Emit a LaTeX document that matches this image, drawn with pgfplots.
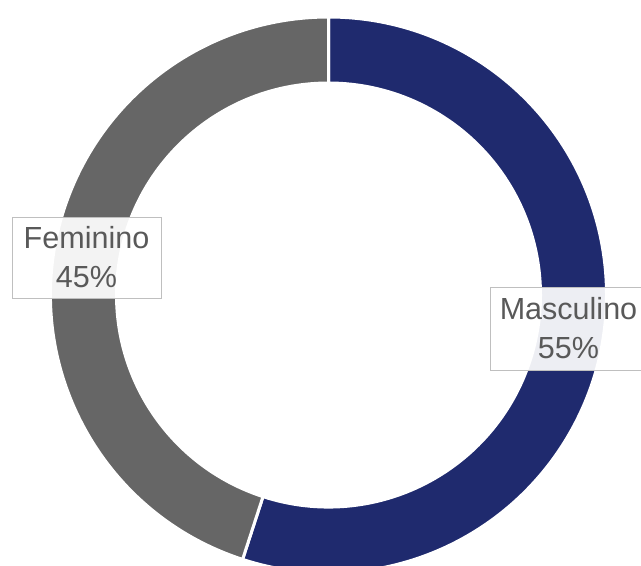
\documentclass[border=0pt]{standalone}
\usepackage{pgfplots}
\usepackage{pgfplotstable}
\pgfplotsset{compat=1.18}
\usepackage{fontspec}
\setmainfont{Liberation Sans}
\definecolor{navyslice}{RGB}{31,42,110}
\definecolor{grayslice}{RGB}{102,102,102}
\definecolor{labeltext}{RGB}{89,89,89}
\definecolor{labelbox}{RGB}{191,191,191}
\tikzset{lbl/.style={draw=labelbox, line width=0.75pt, fill=white, fill opacity=0.92,
    text opacity=1, text=labeltext, align=center,
    font={\fontsize{22.9pt}{29.25pt}\selectfont}, inner sep=0pt}}

\pgfplotstableread{
label value
Masculino 55
Feminino 45
}\sharetable

\begin{document}
\begin{tikzpicture}
\pgfplotstablegetelem{0}{value}\of\sharetable \let\vmasc\pgfplotsretval
\pgfplotstablegetelem{1}{value}\of\sharetable \let\vfem\pgfplotsretval
\pgfmathsetmacro\angsplit{90-3.6*\vmasc}
\pgfmathsetmacro\angend{\angsplit-3.6*\vfem}
\path[use as bounding box, clip] (0,0) rectangle (480.75pt,423.75pt);
\begin{axis}[
    at={(0,0)}, anchor=south west,
    x=0.75pt, y=0.75pt,
    xmin=-328.5, xmax=312.5,
    ymin=-270, ymax=295,
    hide axis,
    clip=false,
  ]
  % outer radius 278 px, inner 212 px (1 px = 0.75pt)
  \filldraw[fill=navyslice, draw=white, line width=2.25pt]
    (axis cs:0,0) ++(90:208.5pt) arc[start angle=90, end angle=\angsplit, radius=208.5pt]
    -- ++(\angsplit:-49.5pt) arc[start angle=\angsplit, end angle=90, radius=159pt] -- cycle;
  \filldraw[fill=grayslice, draw=white, line width=2.25pt]
    (axis cs:0,0) ++(\angsplit:208.5pt) arc[start angle=\angsplit, end angle=\angend, radius=208.5pt]
    -- ++(\angend:-49.5pt) arc[start angle=\angend, end angle=\angsplit, radius=159pt] -- cycle;
  % data labels
  \node[lbl, minimum width=111.75pt, minimum height=60.75pt] at (axis cs:-242,37.5)
    {Feminino\\45\%};
  \node[lbl, minimum width=117.75pt, minimum height=62.25pt] at (axis cs:240,-33.5)
    {Masculino\\55\%};
\end{axis}
\end{tikzpicture}
\end{document}
